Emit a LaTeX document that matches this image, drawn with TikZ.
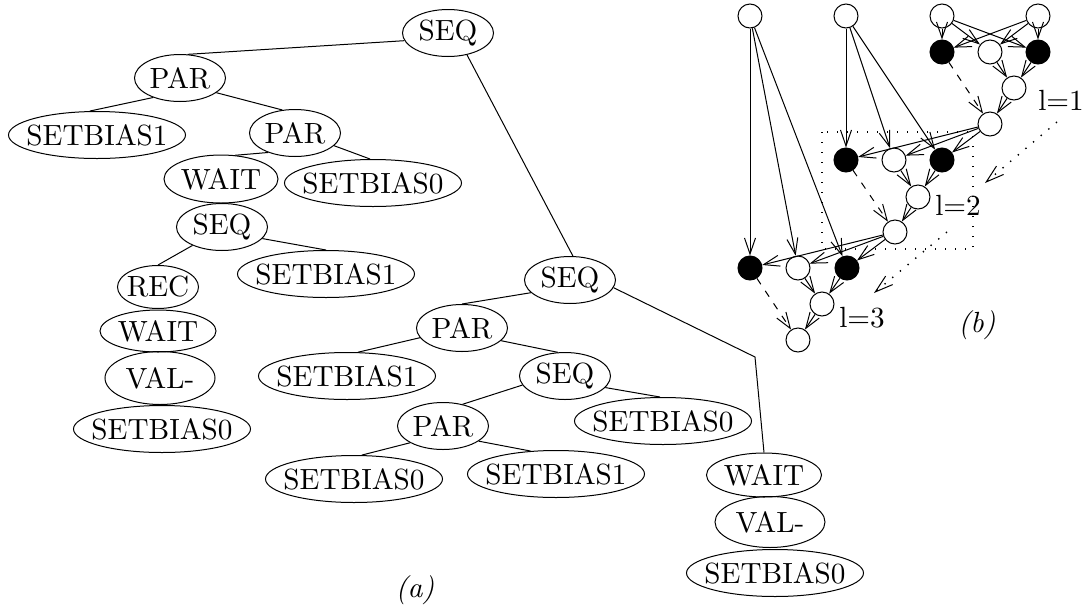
\documentclass[tikz,border=0pt]{standalone}
\usepackage{fontspec}
\setmainfont{lmroman10-regular.otf}[ItalicFont=lmroman10-italic.otf]
\usetikzlibrary{shapes.geometric,arrows.meta}
\newcommand{\ctr}[1]{\makebox[0pt]{#1}}
\begin{document}
\begin{tikzpicture}[x=0.5pt,y=-0.5pt,line width=0.5pt,
  every node/.style={font=\fontsize{14.6pt}{17pt}\selectfont},
  el/.style 2 args={ellipse,draw,inner sep=0pt,minimum width=#1,minimum height=#2},
  sm/.style={el={45.5pt}{23.5pt}},
  lg/.style={el={88.5pt}{23.5pt}},
  vc/.style={circle,draw,inner sep=0pt,minimum size=12pt},
  vf/.style={vc,fill=black},
  arr/.style={-{Straight Barb[length=8pt,width=5.5pt]}},
  dsh/.style={arr,dash pattern=on 3.5pt off 4pt},
  dotl/.style={line width=0.7pt,dash pattern=on 0.7pt off 4.3pt},
  dotarr/.style={dotl,-{Straight Barb[length=9pt,width=5.5pt,line width=0.5pt]}},
]
\fill[white] (0,0) rectangle (1083,606);
\useasboundingbox (0,0) rectangle (1083,606);

% ---------- (a) left tree ----------
\node[sm] (s1) at (448,33) {\ctr{SEQ}};
\node[sm] (p1) at (180,78) {\ctr{PAR}};
\node[lg] (b1) at (97,135) {\ctr{SETBIAS1}};
\node[sm] (p2) at (295,133) {\ctr{PAR}};
\node[el={57pt}{24pt}] (w1) at (221,179) {\ctr{WAIT}};
\node[lg] (b2) at (373,183) {\ctr{SETBIAS0}};
\node[sm] (s2) at (222,227) {\ctr{SEQ}};
\node[lg] (b3) at (326,274) {\ctr{SETBIAS1}};
\node[el={40.5pt}{21.5pt}] (r1) at (158,287) {\ctr{REC}};
\node[el={58pt}{21pt}] (w2) at (158,331) {\ctr{WAIT}};
\node[el={55pt}{26.5pt}] (v1) at (160,378) {\ctr{VAL-}};
\node[lg] (b4) at (162,429) {\ctr{SETBIAS0}};

% ---------- (a) right tree ----------
\node[sm] (s3) at (570,280) {\ctr{SEQ}};
\node[sm] (p3) at (462,328) {\ctr{PAR}};
\node[lg] (b5) at (347,376) {\ctr{SETBIAS1}};
\node[sm] (s4) at (565,376) {\ctr{SEQ}};
\node[lg] (b6) at (663,421) {\ctr{SETBIAS0}};
\node[sm] (p4) at (443,426) {\ctr{PAR}};
\node[lg] (b7) at (354,479) {\ctr{SETBIAS0}};
\node[lg] (b8) at (556,474) {\ctr{SETBIAS1}};
\node[el={57.5pt}{22pt}] (w3) at (764,475) {\ctr{WAIT}};
\node[el={55pt}{25.5pt}] (v2) at (770,522) {\ctr{VAL-}};
\node[lg] (b9) at (775,573) {\ctr{SETBIAS0}};
\coordinate (bend) at (755,357);

\draw (s1.190) -- (p1.72);
\draw (p1.216) -- (b1.107);
\draw (p1.338) -- (p2.119);
\draw (p2.216) -- (w1.59);
\draw (p2.342) -- (b2.97);
\draw (s2.212) -- (r1.north);
\draw (s2.344) -- (b3.north);
\draw (s1.311) -- (s3.83);
\draw (s3.198) -- (p3.north);
\draw (p3.193) -- (b5.65);
\draw (p3.342) -- (s4.107);
\draw (s4.192) -- (p4.48);
\draw (s4.344) -- (b6.97);
\draw (p4.207) -- (b7.72);
\draw (p4.337) -- (b8.138);
\draw (s3.350) -- (bend) -- (w3.north);

\node (la) at (415,590) {\itshape (a)};

% ---------- (b) graph ----------
\node[vc] (a1) at (750,16) {};
\node[vc] (a2) at (846,16) {};
\node[vc] (a3) at (942,16) {};
\node[vc] (a4) at (1038,16) {};
\node[vf] (b1n) at (942,52) {};
\node[vc] (b2n) at (990,52) {};
\node[vf] (b3n) at (1038,52) {};
\node[vc] (b4n) at (1014,88) {};
\node[vc] (b5n) at (990,124) {};
\node[vf] (c1) at (846,160) {};
\node[vc] (c2) at (894,160) {};
\node[vf] (c3) at (942,160) {};
\node[vc] (c4) at (918,197) {};
\node[vc] (c5) at (895,232) {};
\node[vf] (d1) at (750,268) {};
\node[vc] (d2) at (798,268) {};
\node[vf] (d3) at (847,268) {};
\node[vc] (d4) at (822,304) {};
\node[vc] (d5) at (798,340) {};

\foreach \s in {a3,a4}{\foreach \t in {b1n,b2n,b3n}{\draw[arr] (\s) -- (\t);}}
\draw[arr] (b2n) -- (b4n);
\draw[arr] (b3n) -- (b4n);
\draw[arr] (b4n) -- (b5n);
\draw[dsh] (b1n) -- (b5n);
\foreach \s in {a2,b5n}{\foreach \t in {c1,c2,c3}{\draw[arr] (\s) -- (\t);}}
\draw[arr] (c2) -- (c4);
\draw[arr] (c3) -- (c4);
\draw[arr] (c4) -- (c5);
\draw[dsh] (c1) -- (c5);
\foreach \s in {a1,c5}{\foreach \t in {d1,d2,d3}{\draw[arr] (\s) -- (\t);}}
\draw[arr] (d2) -- (d4);
\draw[arr] (d3) -- (d4);
\draw[arr] (d4) -- (d5);
\draw[dsh] (d1) -- (d5);

\draw[dotl] (822,132) rectangle (973,249);
\coordinate (q1s) at (1057,122);
\coordinate (q1e) at (985,183);
\coordinate (q2s) at (947,232);
\coordinate (q2e) at (874,293);
\draw[dotarr] (q1s) -- (q1e);
\draw[dotarr] (q2s) -- (q2e);

\node (l1) at (1061,100) {l=1};
\node (l2) at (958,205) {l=2};
\node (l3) at (862,318) {l=3};
\node (lb) at (977,325) {\itshape (b)};
\end{tikzpicture}
\end{document}
